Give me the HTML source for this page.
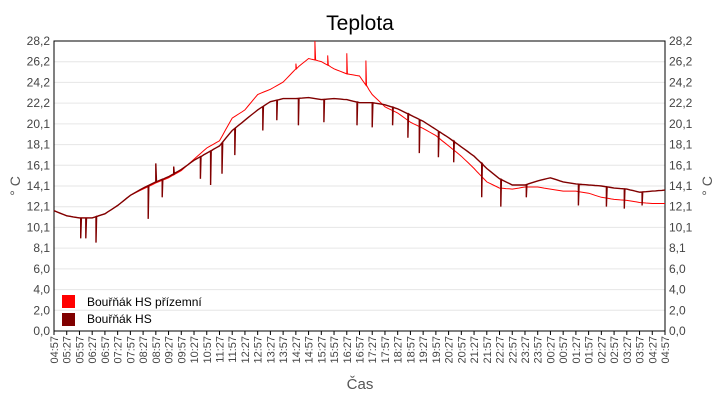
<!DOCTYPE html>
<html><head><meta charset="utf-8"><style>
body{margin:0;background:#fff;font-family:"Liberation Sans",sans-serif}
svg text{font-family:"Liberation Sans",sans-serif}
</style></head><body>
<svg id="chart" width="720" height="400" viewBox="0 0 720 400" xmlns="http://www.w3.org/2000/svg">
<text x="360" y="30" text-anchor="middle" font-size="21" fill="#000">Teplota</text>
<g id="grid"></g><g id="axes"></g><g id="series"></g>
<text x="360" y="389" text-anchor="middle" font-size="15" fill="#555">Čas</text>
<text transform="translate(20,186) rotate(-90)" text-anchor="middle" font-size="14" fill="#555">° C</text>
<text transform="translate(712,186) rotate(-90)" text-anchor="middle" font-size="14" fill="#555">° C</text>
<g>
<rect x="62" y="295" width="13" height="13" fill="#ff0000"/>
<text x="87" y="306" font-size="12" fill="#000">Bouřňák HS přízemní</text>
<rect x="62" y="313" width="13" height="13" fill="#800000"/>
<text x="87" y="323" font-size="12" fill="#000">Bouřňák HS</text>
</g>
</svg>
<script>
const yTicks=["0,0","2,0","4,0","6,0","8,1","10,1","12,1","14,1","16,1","18,1","20,1","22,2","24,2","26,2","28,2"];
const xLabels=[];
const hsValues=[11.7,11.2,11.0,11.0,11.4,12.2,13.2,13.9,14.5,15.0,15.7,16.6,17.3,18.0,19.5,20.5,21.5,22.3,22.6,22.6,22.7,22.5,22.6,22.5,22.2,22.2,22.0,21.6,21.0,20.4,19.6,18.8,17.9,17.0,15.8,14.8,14.2,14.2,14.6,14.9,14.5,14.3,14.2,14.1,13.9,13.8,13.5,13.6,13.7];
const prizValues=[11.7,11.2,11.0,11.0,11.4,12.2,13.2,13.8,14.4,14.9,15.6,16.7,17.8,18.5,20.7,21.5,23.0,23.5,24.2,25.5,26.5,26.2,25.5,25.0,24.8,23.0,21.8,21.2,20.3,19.7,19.0,18.0,17.0,15.8,14.5,13.9,13.8,14.0,14.0,13.8,13.6,13.6,13.4,13.0,12.8,12.7,12.5,12.4,12.4];
const hsSpikeIdx=[2.1,2.5,3.3,7.4,8.0,8.5,9.4,11.5,12.3,13.2,14.2,16.4,17.5,19.2,21.2,23.8,25.0,26.6,27.8,28.7,30.2,31.4,33.6,35.1,37.1,41.2,43.4,44.8,46.2];
const hsSpikeVal=[9.0,9.0,8.6,10.9,16.3,13.0,16.0,14.8,14.2,15.3,17.1,19.5,20.5,20.0,20.3,20.0,19.8,20.0,18.8,17.3,16.9,16.4,13.0,12.1,13.0,12.2,12.1,11.9,12.2];
const prizSpikeIdx=[19.0,20.5,21.5,23.0,24.5];
const prizSpikeVal=[26.0,28.2,26.8,27.0,26.3];
(function(){let h=4,m=57;for(let i=0;i<49;i++){xLabels.push(String(h).padStart(2,'0')+':'+String(m).padStart(2,'0'));m+=30;if(m>=60){m-=60;h=(h+1)%24;}}})();
const L=54,R=665,T=41,B=331,YMAX=28.2;
const NS='http://www.w3.org/2000/svg';
const xs=i=>L+(R-L)*i/(xLabels.length-1);
const ys=v=>B-(B-T)*v/YMAX;
function mk(tag,attrs,parent){const e=document.createElementNS(NS,tag);for(const k in attrs)e.setAttribute(k,attrs[k]);parent.appendChild(e);return e;}
const grid=document.getElementById('grid'),axes=document.getElementById('axes'),ser=document.getElementById('series');
yTicks.forEach((t,i)=>{const v=YMAX*i/(yTicks.length-1),y=ys(v);
 const g=mk('line',{x1:L,x2:R,y1:y,y2:y,stroke:'#e6e6e6','stroke-width':1},grid);
 
 
 const a=mk('text',{x:L-4,y:y+4,'text-anchor':'end','font-size':12,fill:'#444'},axes);a.textContent=t;
 
 
 const b=mk('text',{x:R+4,y:y+4,'font-size':12,fill:'#444'},axes);b.textContent=t;
 
 
});
const frame=mk('rect',{x:L,y:T,width:R-L,height:B-T,fill:'none',stroke:'#000','stroke-width':1},axes);


xLabels.forEach((t,i)=>{const x=xs(i);
 mk('line',{x1:x,x2:x,y1:B,y2:B+4,stroke:'#000'},axes);
 const tx=mk('text',{transform:`translate(${x+4},${B+5}) rotate(-90)`,'text-anchor':'end','font-size':11,fill:'#444'},axes);tx.textContent=t;
 
 
});
function series(vals,sIdx,sVal,color,name,w){
 const pts=[];for(let i=0;i<vals.length-1;i++){for(let k=0;k<4;k++){const f=i+k/4;const v=vals[i]+(vals[i+1]-vals[i])*k/4;pts.push([f,v]);}}
 pts.push([vals.length-1,vals[vals.length-1]]);
 sIdx.forEach((f,j)=>pts.push([f,sVal[j],1]));
 pts.sort((a,b)=>a[0]-b[0]);
 let d='';pts.forEach((p,j)=>{
  if(p[2]){const i0=Math.floor(p[0]);const base=vals[i0]+(vals[Math.min(i0+1,vals.length-1)]-vals[i0])*(p[0]-i0);
   d+=`L${xs(p[0]).toFixed(1)},${ys(base).toFixed(1)}L${xs(p[0]).toFixed(1)},${ys(p[1]).toFixed(1)}L${xs(p[0]+0.05).toFixed(1)},${ys(base).toFixed(1)}`;}
  else d+=(j?'L':'M')+xs(p[0]).toFixed(1)+','+ys(p[1]).toFixed(1);});
 const p=mk('path',{d:d,fill:'none',stroke:color,'stroke-width':w},ser);
 
 
}
series(prizValues,prizSpikeIdx,prizSpikeVal,'#ff0000','series-prizemni',1);
series(hsValues,hsSpikeIdx,hsSpikeVal,'#800000','series-hs',1.4);
</script>
</body></html>
